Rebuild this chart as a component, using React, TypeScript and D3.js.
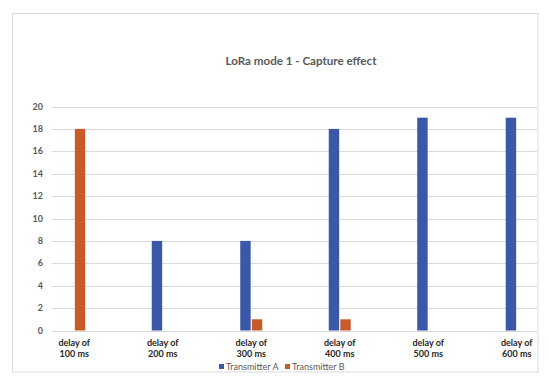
import React from "react";
import * as d3 from "d3";

const categories = ["delay of|100 ms", "delay of|200 ms", "delay of|300 ms", "delay of|400 ms", "delay of|500 ms", "delay of|600 ms"];
const seriesNames = ["Transmitter A", "Transmitter B"];
const transmitterA = [0, 8, 8, 18, 19, 19];
const transmitterB = [18, 0, 1, 1, 0, 0];
const yTicks = [0, 2, 4, 6, 8, 10, 12, 14, 16, 18, 20];
const title = "LoRa mode 1 - Capture effect";

const colors = ["#3A57A8", "#C65A28"];
const W = 550, H = 383;
const FONT = "Lato, 'Open Sans', sans-serif";

export default function App() {
  const x = d3.scaleBand<string>().domain(categories).range([30, 561]).paddingInner(0).paddingOuter(0);
  const xs = d3.scaleBand<string>().domain(seriesNames).range([-11, 11]).paddingInner(0.1);
  const y = d3.scaleLinear().domain([0, 20]).range([330.5, 106.5]);
  const series = [transmitterA, transmitterB];
  const gridX0 = 52, gridX1 = 537;

  return (
    <svg width={W} height={H} style={{ position: "absolute", left: 0, top: 0, background: "#fff" }} fontFamily={FONT}>
      <rect x={12.5} y={13.5} width={525.5} height={358.5} fill="#fff" stroke="#D9D9D9" strokeWidth={1} />
      <text x={301} y={65} textAnchor="middle" fontSize={11.6} fontWeight={700} fill="#595959">{title}</text>
      {yTicks.map((t) => (
        <g key={t}>
          <line x1={gridX0} x2={gridX1} y1={Math.round(y(t)) + 0.5} y2={Math.round(y(t)) + 0.5} stroke="#D9D9D9" strokeWidth={1} />
          <text x={43} y={y(t)} dy="0.35em" textAnchor="end" fontSize={9} fontWeight={700} fill="#595959">{t}</text>
        </g>
      ))}
      {series.map((vals, si) => (
        <g key={si}>
          {vals.map((v, ci) => {
            const cx = (x(categories[ci]) ?? 0) + x.bandwidth() / 2;
            const bx = cx + (xs(seriesNames[si]) ?? 0);
            return v > 0 ? (
              <rect key={ci} x={bx} y={y(v)} width={xs.bandwidth()} height={y(0) - y(v)} fill={colors[si]} />
            ) : null;
          })}
        </g>
      ))}
      {categories.map((c) => {
        const cx = (x(c) ?? 0) + x.bandwidth() / 2;
        const [l1, l2] = c.split("|");
        return (
          <text key={c} x={cx} textAnchor="middle" fontSize={9} fontWeight={700} fill="#262626">
            <tspan x={cx} y={346}>{l1}</tspan>
            <tspan x={cx} y={357}>{l2}</tspan>
          </text>
        );
      })}
      <g>
        <rect x={219} y={364} width={5} height={5} fill={colors[0]} />
        <text x={226} y={369.5} fontSize={9} fill="#595959">{seriesNames[0]}</text>
        <rect x={285} y={364} width={5} height={5} fill={colors[1]} />
        <text x={292} y={369.5} fontSize={9} fill="#595959">{seriesNames[1]}</text>
      </g>
    </svg>
  );
}
